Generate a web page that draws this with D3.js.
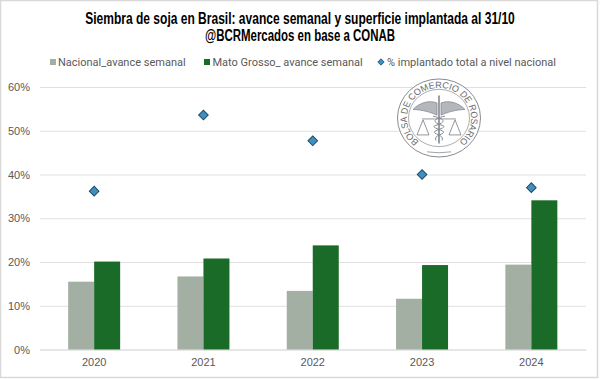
<!DOCTYPE html>
<html>
<head>
<meta charset="utf-8">
<script src="https://cdn.jsdelivr.net/npm/d3@7"></script>
<style>
  html, body { margin: 0; padding: 0; background: #fff; }
  svg { display: block; }
</style>
</head>
<body>
<svg width="600" height="379"></svg>
<script>
  const years = ["2020", "2021", "2022", "2023", "2024"];
  const nacional = [15.5, 16.7, 13.4, 11.6, 19.4];
  const matoGrosso = [20.1, 20.8, 23.8, 19.3, 34.1];
  const implantado = [36.2, 53.6, 47.7, 40.0, 37.0];
  const yTicks = [0, 10, 20, 30, 40, 50, 60];
  const titleLines = [
    "Siembra de soja en Brasil: avance semanal y superficie implantada al 31/10",
    "@BCRMercados en base a CONAB"
  ];
  const titleWidths = [430, 190];

  const svg = d3.select("svg");
  const textFont = "Roboto, sans-serif";
  const axisFont = "'Liberation Sans', sans-serif";

  // marco gris de la imagen
  svg.append("rect").attr("x", 0.5).attr("y", 0.5).attr("width", 597).attr("height", 377)
    .attr("fill", "#fff").attr("stroke", "#d9d9d9").attr("stroke-width", 1.5);

  const x = d3.scaleBand().domain(years).range([39.5, 586]);
  const y = d3.scaleLinear().domain([0, 60]).range([349.5, 87]);
  const barW = 26;
  const center = d => x(d) + x.bandwidth() / 2;

  // eje y y grilla
  const yAxis = d3.axisLeft(y).tickValues(yTicks).tickSize(0).tickPadding(10).tickFormat(d => d + "%");
  const gy = svg.append("g").attr("transform", "translate(40,0)").call(yAxis);
  gy.select(".domain").remove();
  gy.selectAll("text").attr("font-family", axisFont).attr("font-size", 11).attr("fill", "#595959");
  gy.selectAll("line").attr("x2", 546).attr("stroke", "#e0e0e0").attr("stroke-width", 1);

  // eje x
  const xAxis = d3.axisBottom(x).tickSize(0).tickPadding(9);
  const gx = svg.append("g").attr("transform", "translate(0,349.5)").call(xAxis);
  gx.select(".domain").attr("stroke", "#dedede");
  gx.selectAll("text").attr("font-family", axisFont).attr("font-size", 11).attr("fill", "#595959");

  // sello de la bolsa (queda detras de las marcas)
  const seal = svg.append("g").attr("transform", "translate(439,118) scale(1,0.94)").attr("fill", "none").attr("stroke", "#83888f");
  seal.append("circle").attr("r", 41.5).attr("fill", "#fff").attr("fill-opacity", 0.8).attr("stroke-width", 1);
  seal.append("circle").attr("r", 30.5).attr("stroke-width", 0.7);
  seal.append("path").attr("id", "sealArc")
    .attr("d", "M -16,27.7 A 32,32 0 1 1 16,27.7").attr("stroke", "none");
  seal.append("text").attr("font-family", axisFont).attr("font-size", 9.5)
    .attr("fill", "#666c73").attr("stroke", "none")
    .append("textPath").attr("href", "#sealArc").attr("startOffset", "50%").attr("text-anchor", "middle")
    .attr("textLength", 158).attr("lengthAdjust", "spacingAndGlyphs")
    .text("BOLSA DE COMERCIO DE ROSARIO");
  // caduceo y balanza
  seal.append("path").attr("stroke-width", 1.6).attr("d", "M0,-24 V27");
  seal.append("path").attr("stroke-width", 0.8).attr("fill", "#b4b8bd")
    .attr("d", "M-2,-16 C-9,-19 -19,-17 -26,-9 C-17,-9 -8,-6 -2,-3 Z M2,-16 C9,-19 19,-17 26,-9 C17,-9 8,-6 2,-3 Z");
  seal.append("path").attr("stroke-width", 1)
    .attr("d", "M-6,-2 C7,1 7,5 -4,8 C-9,11 8,13 4,16 C0,19 -5,19 -3,24 M6,-2 C-7,1 -7,5 4,8 C9,11 -8,13 -4,16 C0,19 5,19 3,24");
  seal.append("path").attr("stroke-width", 0.9)
    .attr("d", "M-17,1 H17 M-16,2 L-22,18 H-10 Z M16,2 L10,18 H22 Z");
  seal.append("path").attr("stroke-width", 0.8).attr("d", "M-12,36 Q0,38 12,36");

  // barras
  svg.selectAll(".nac").data(years).enter().append("rect")
    .attr("x", d => center(d) - barW)
    .attr("y", (d, i) => y(nacional[i]))
    .attr("width", barW)
    .attr("height", (d, i) => y(0) - y(nacional[i]))
    .attr("fill", "#a3afa3");
  svg.selectAll(".mt").data(years).enter().append("rect")
    .attr("x", d => center(d))
    .attr("y", (d, i) => y(matoGrosso[i]))
    .attr("width", barW)
    .attr("height", (d, i) => y(0) - y(matoGrosso[i]))
    .attr("fill", "#1a6b28");

  // rombos
  const diamond = d3.symbol().type(d3.symbolSquare).size(46);
  svg.selectAll(".pt").data(years).enter().append("path")
    .attr("d", diamond)
    .attr("transform", (d, i) => `translate(${center(d)},${y(implantado[i])}) rotate(45)`)
    .attr("fill", "#3f8fc0")
    .attr("stroke", "#1d4d66")
    .attr("stroke-width", 1);

  // titulo: fuente angosta simulada, se mide y se comprime en x
  svg.selectAll(".title").data(titleLines).enter().append("text")
    .attr("text-anchor", "middle")
    .attr("font-family", "'Liberation Sans', sans-serif")
    .attr("font-weight", "bold").attr("font-size", 16).attr("fill", "#000")
    .text(d => d)
    .attr("transform", function(d, i) {
      const k = titleWidths[i] / this.getComputedTextLength();
      return `translate(300,${24 + i * 17}) scale(${k},1)`;
    });

  // leyenda
  const legY = 62;
  const leg = svg.append("g").attr("font-family", textFont).attr("font-size", 11).attr("fill", "#595959");
  leg.append("rect").attr("x", 50).attr("y", legY - 3).attr("width", 6).attr("height", 6).attr("fill", "#a3afa3");
  leg.append("text").attr("x", 58).attr("y", legY + 4).text("Nacional_avance semanal");
  leg.append("rect").attr("x", 204).attr("y", legY - 3).attr("width", 6).attr("height", 6).attr("fill", "#1a6b28");
  leg.append("text").attr("x", 212.5).attr("y", legY + 4).text("Mato Grosso_ avance semanal");
  leg.append("path").attr("d", d3.symbol().type(d3.symbolSquare).size(20))
    .attr("transform", `translate(381,${legY}) rotate(45)`)
    .attr("fill", "#3f8fc0").attr("stroke", "#1d4d66").attr("stroke-width", 0.8);
  leg.append("text").attr("x", 387).attr("y", legY + 4).text("% implantado total a nivel nacional");
</script>
</body>
</html>
